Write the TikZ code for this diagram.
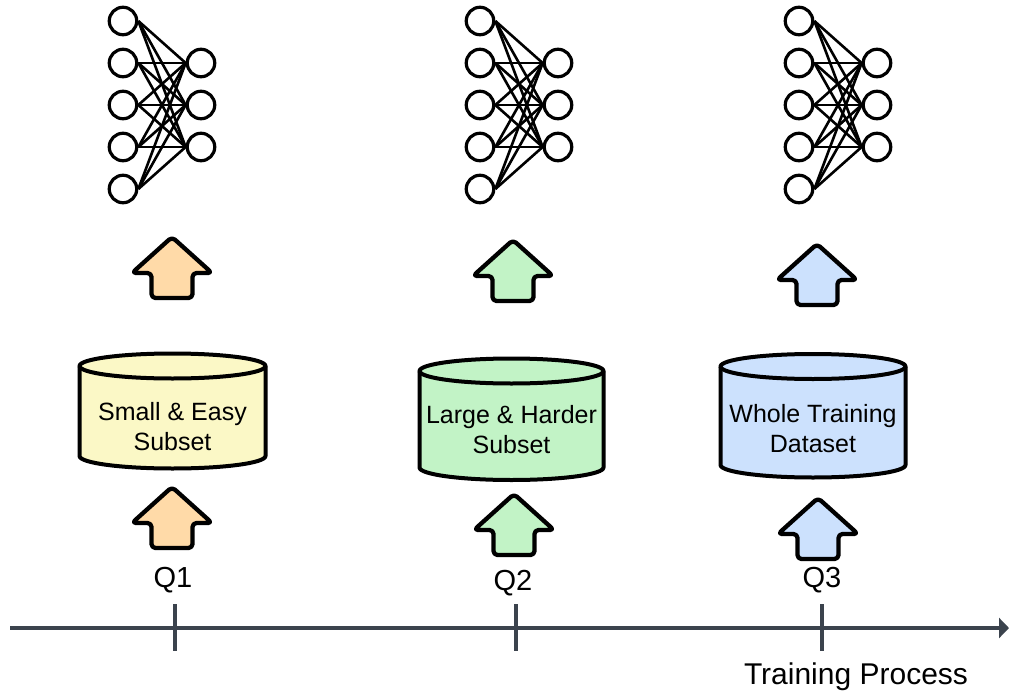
\documentclass[tikz,border=0pt]{standalone}
\usepackage{fontspec}
\setmainfont{Liberation Sans}
\usetikzlibrary{arrows.meta}
\definecolor{orangeF}{HTML}{FFDAA8}
\definecolor{greenF}{HTML}{C2F3C6}
\definecolor{blueF}{HTML}{CCE1FD}
\definecolor{yellowF}{HTML}{FBF8C6}
\definecolor{axisgray}{HTML}{3B434D}
\tikzset{
  neuron/.style={circle, draw=black, line width=3.2pt, minimum size=27.5pt, inner sep=0pt, fill=white},
  synapse/.style={line width=2.6pt, black},
  blockarrow/.style={draw=black, line width=4.3pt, rounded corners=4pt, line join=round},
  dbbody/.style={draw=black, line width=4pt, line join=round},
  dblabel/.style={align=center, font=\fontsize{25}{30}\selectfont, inner sep=0pt},
  qlabel/.style={font=\fontsize{29}{34}\selectfont, inner sep=0pt},
  axisline/.style={draw=axisgray, line width=4.5pt}
}
\newcommand\blockuparrow[3]{%
  \draw[blockarrow, fill=#1] (#2,#3) -- ++(40,36) -- ++(-19.5,0) -- ++(0,25)
    -- ++(-41,0) -- ++(0,-25) -- ++(-19.5,0) -- cycle;}
\begin{document}
\begin{tikzpicture}[x=1pt,y=1pt,yscale=-1]
\useasboundingbox (0,0) rectangle (1010,696);

% neural networks
\foreach \nn/\cx in {a/123,b/480,c/799}{
  \foreach \i/\yy in {1/21,2/63,3/105,4/147,5/189}
    \node[neuron] (\nn l\i) at (\cx,\yy) {};
  \foreach \j/\yy in {1/63,2/105,3/147}
    \node[neuron] (\nn r\j) at (\cx+78,\yy) {};
  \foreach \i in {1,...,5}
    \foreach \j in {1,2,3}
      \draw[synapse] (\nn l\i.east) -- (\nn r\j.west);
}

% block arrows
\blockuparrow{orangeF}{172}{237}
\blockuparrow{orangeF}{172}{487}
\blockuparrow{greenF}{513}{240}
\blockuparrow{greenF}{514}{494}
\blockuparrow{blueF}{817}{244}
\blockuparrow{blueF}{818}{498}

% cylinders
\foreach \nm/\cx/\rx/\yt/\yb/\ty/\col/\txt in {
  dbone/172.5/93/366/456/427/yellowF/{Small \& Easy\\Subset},
  dbtwo/511.5/92/371/467.5/430/greenF/{Large \& Harder\\Subset},
  dbthree/813/92.5/366.5/465/428.5/blueF/{Whole Training\\Dataset}}{
  \path[dbbody, fill=\col] (\cx-\rx,\yt) -- (\cx-\rx,\yb)
    arc[start angle=180, end angle=0, x radius=\rx, y radius=12.5]
    -- (\cx+\rx,\yt)
    arc[start angle=0, end angle=-180, x radius=\rx, y radius=12.5] -- cycle;
  \draw[dbbody] (\cx-\rx,\yt) arc[start angle=180, end angle=0, x radius=\rx, y radius=12.5];
  \node[dblabel] (\nm) at (\cx,\ty) {\txt};
}

% time axis
\coordinate (axs) at (10,628);
\coordinate (axe) at (1009,628);
\draw[axisline, -{Triangle[length=10pt,width=20pt]}] (axs) -- (axe);
\foreach \k/\tx in {1/175,2/516,3/822}{
  \coordinate (t\k a) at (\tx,604);
  \coordinate (t\k b) at (\tx,651);
  \draw[axisline] (t\k a) -- (t\k b);
}
\node[qlabel] (q1) at (173,580) {Q1};
\node[qlabel] (q2) at (513,583) {Q2};
\node[qlabel] (q3) at (822,580) {Q3};
\node[font=\fontsize{30}{36}\selectfont, inner sep=0pt] (tp) at (856,677) {Training Process};
\end{tikzpicture}
\end{document}
